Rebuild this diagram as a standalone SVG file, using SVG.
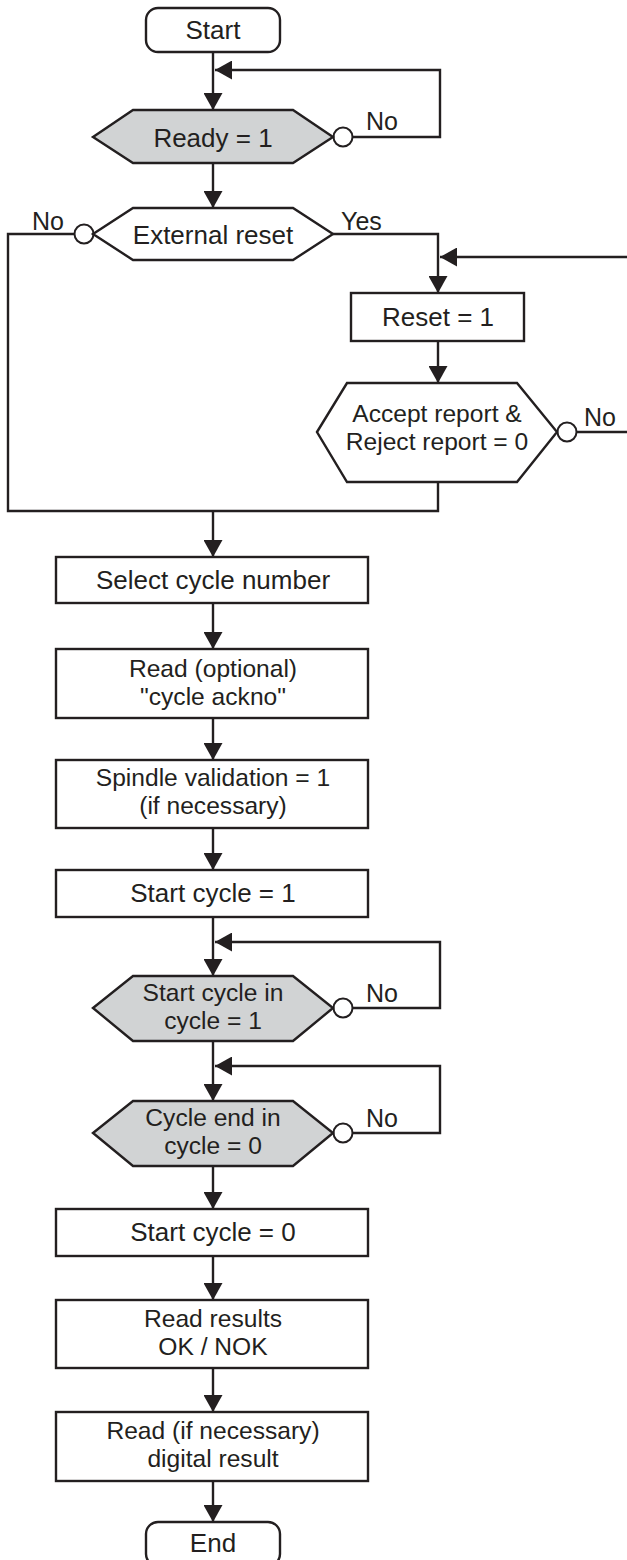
<svg xmlns="http://www.w3.org/2000/svg" width="627" height="1560" viewBox="0 0 627 1560">
<style>
.s{fill:#fff;stroke:#231f20;stroke-width:2.4}
.g{fill:#d1d3d4;stroke:#231f20;stroke-width:2.4}
.c{fill:#fff;stroke:#231f20;stroke-width:2}
.l{fill:none;stroke:#231f20;stroke-width:2.4}
.a{fill:none;stroke:#231f20;stroke-width:2.4;marker-end:url(#ah)}
text{font-family:"Liberation Sans",Arial,sans-serif;font-size:26px;fill:#231f20;text-anchor:middle}
.two{font-size:24.6px}
.lab{font-size:25px;text-anchor:start}
</style>
<defs>
<marker id="ah" markerUnits="userSpaceOnUse" markerWidth="17" markerHeight="19" refX="17" refY="9.5" orient="auto" viewBox="0 0 17 19">
<path d="M0,0 L17,9.5 L0,19 z" fill="#231f20"/>
</marker>
</defs>
<rect width="627" height="1560" fill="#fff"/>
<g id="connectors">
<path class="a" d="M213,52 V110"/>
<path class="a" d="M352.5,137 H440 V70 H215"/>
<path class="a" d="M213,163 V208"/>
<path class="l" d="M75,234 H8 V511 H438 V482"/>
<path class="a" d="M333,234 H438 V293"/>
<path class="a" d="M627,257 H440"/>
<path class="a" d="M438,341 V383"/>
<path class="l" d="M576.5,432 H627"/>
<path class="a" d="M213,511 V557"/>
<path class="a" d="M213,603 V649"/>
<path class="a" d="M213,718 V760"/>
<path class="a" d="M213,828 V870"/>
<path class="a" d="M213,917 V976"/>
<path class="a" d="M352.5,1008 H440 V942 H215"/>
<path class="a" d="M213,1041 V1101"/>
<path class="a" d="M352.5,1133 H440 V1066 H215"/>
<path class="a" d="M213,1166 V1209"/>
<path class="a" d="M213,1256 V1300"/>
<path class="a" d="M213,1368 V1412"/>
<path class="a" d="M213,1481 V1522"/>
<circle class="c" cx="343" cy="137" r="9.5"/>
<circle class="c" cx="84" cy="234" r="9.5"/>
<circle class="c" cx="567" cy="432" r="9.5"/>
<circle class="c" cx="343" cy="1008" r="9.5"/>
<circle class="c" cx="343" cy="1133" r="9.5"/>
<text class="lab" x="366" y="130">No</text>
<text class="lab" x="32" y="230">No</text>
<text class="lab" x="341" y="230">Yes</text>
<text class="lab" x="584" y="426">No</text>
<text class="lab" x="366" y="1002">No</text>
<text class="lab" x="366" y="1127">No</text>
</g>
<g id="start">
<rect class="s" x="146" y="8" width="134" height="44" rx="12"/>
<text x="213" y="39">Start</text>
</g>
<g id="ready">
<polygon class="g" points="93,137 133,110 293,110 333,137 293,163 133,163"/>
<text x="213" y="147">Ready = 1</text>
</g>
<g id="external-reset">
<polygon class="s" points="93,234 133,208 293,208 333,234 293,260 133,260"/>
<text x="213" y="244">External reset</text>
</g>
<g id="reset">
<rect class="s" x="351" y="293" width="173" height="48"/>
<text x="438" y="326">Reset = 1</text>
</g>
<g id="accept-reject">
<polygon class="s" points="317,432 347,383 517,383 557,432 517,482 347,482"/>
<text class="two" x="437" y="422">Accept report &amp;<tspan x="437" dy="28">Reject report = 0</tspan></text>
</g>
<g id="select-cycle">
<rect class="s" x="56" y="557" width="312" height="46"/>
<text x="213" y="589">Select cycle number</text>
</g>
<g id="read-optional">
<rect class="s" x="56" y="649" width="312" height="69"/>
<text class="two" x="213" y="677">Read (optional)<tspan x="213" dy="28">"cycle ackno"</tspan></text>
</g>
<g id="spindle">
<rect class="s" x="56" y="760" width="312" height="68"/>
<text class="two" x="213" y="786">Spindle validation = 1<tspan x="213" dy="28">(if necessary)</tspan></text>
</g>
<g id="start-cycle-1">
<rect class="s" x="56" y="870" width="312" height="47"/>
<text x="213" y="902">Start cycle = 1</text>
</g>
<g id="start-cycle-in">
<polygon class="g" points="93,1008 133,976 293,976 333,1008 293,1041 133,1041"/>
<text class="two" x="213" y="1001">Start cycle in<tspan x="213" dy="28">cycle = 1</tspan></text>
</g>
<g id="cycle-end">
<polygon class="g" points="93,1133 133,1101 293,1101 333,1133 293,1166 133,1166"/>
<text class="two" x="213" y="1126">Cycle end in<tspan x="213" dy="28">cycle = 0</tspan></text>
</g>
<g id="start-cycle-0">
<rect class="s" x="56" y="1209" width="312" height="47"/>
<text x="213" y="1241">Start cycle = 0</text>
</g>
<g id="read-results">
<rect class="s" x="56" y="1300" width="312" height="68"/>
<text class="two" x="213" y="1327">Read results<tspan x="213" dy="28">OK / NOK</tspan></text>
</g>
<g id="read-digital">
<rect class="s" x="56" y="1412" width="312" height="69"/>
<text class="two" x="213" y="1439">Read (if necessary)<tspan x="213" dy="28">digital result</tspan></text>
</g>
<g id="end">
<rect class="s" x="146" y="1522" width="134" height="44" rx="12"/>
<text x="213" y="1552">End</text>
</g>
</svg>
